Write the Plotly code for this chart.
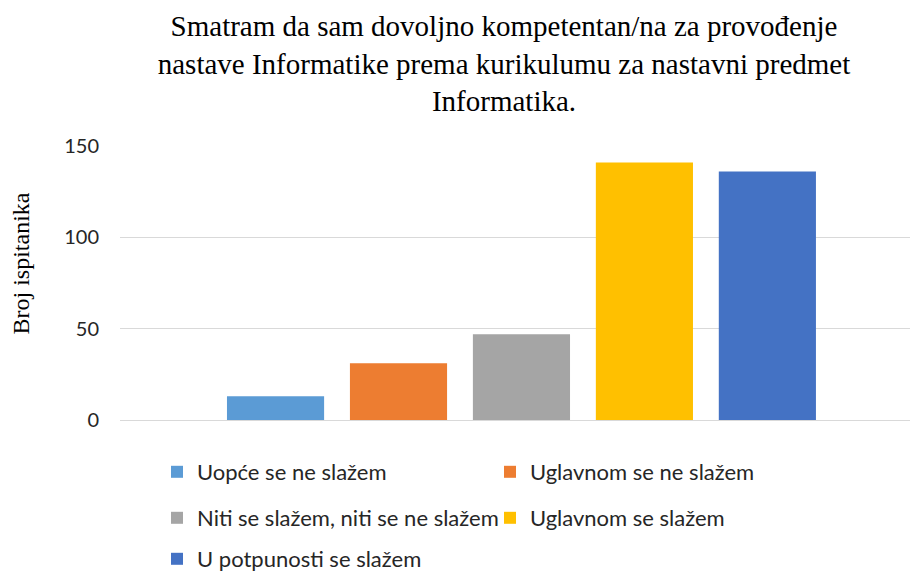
import plotly.graph_objects as go

title_text = "Smatram da sam dovoljno kompetentan/na za provođenje<br>nastave Informatike prema kurikulumu za nastavni predmet<br>Informatika."
y_title = "Broj ispitanika"
category = ["Odgovor"]
series_names = [
    "Uopće se ne slažem",
    "Uglavnom se ne slažem",
    "Niti se slažem, niti se ne slažem",
    "Uglavnom se slažem",
    "U potpunosti se slažem",
]
series_values = [13, 31, 47, 141, 136]
series_colors = ["#5B9BD5", "#ED7D31", "#A5A5A5", "#FFC000", "#4472C4"]
y_ticks = [0, 50, 100, 150]

W, H = 910, 572
L, R, T, B = 120, 0, 146, 152

legend_rows = ["legend", "legend", "legend2", "legend2", "legend3"]

fig = go.Figure()
for name, val, col, lg in zip(series_names, series_values, series_colors, legend_rows):
    fig.add_trace(go.Bar(x=category, y=[val], name=name, marker_color=col,
                         marker_line_width=0, legend=lg))

leg_font = dict(family="Lato", size=22, color="#262626")
row_y = [472, 518, 559]
leg_common = dict(orientation="h", xref="container", yref="container",
                  xanchor="left", yanchor="middle", x=157 / W,
                  entrywidth=288, entrywidthmode="pixels",
                  font=leg_font, bgcolor="rgba(0,0,0,0)", traceorder="normal")

fig.update_layout(
    width=W, height=H,
    margin=dict(l=L, r=R, t=T, b=B, pad=0),
    paper_bgcolor="white", plot_bgcolor="white",
    barmode="group", bargap=0, bargroupgap=0.21,
    title=dict(text=title_text, xref="container", yref="container",
               x=504 / W, xanchor="center", y=1 - 36 / H, yanchor="top",
               font=dict(family="Liberation Serif", size=29, color="#000000")),
    xaxis=dict(type="category", range=[-0.653, 0.632], showticklabels=False,
               showgrid=False, zeroline=False, showline=False, ticks=""),
    yaxis=dict(range=[0, 150], tickvals=y_ticks, showgrid=True,
               gridcolor="#D9D9D9", gridwidth=1.3, zeroline=True,
               zerolinecolor="#D9D9D9", zerolinewidth=1.3, showline=False,
               ticks="", ticklabelstandoff=20,
               tickfont=dict(family="Lato", size=20, color="#262626")),
    legend=dict(**leg_common, y=1 - row_y[0] / H),
    legend2=dict(**leg_common, y=1 - row_y[1] / H),
    legend3=dict(**leg_common, y=1 - row_y[2] / H),
    showlegend=True,
    annotations=[dict(text=y_title, xref="paper", yref="paper",
                      x=(20 - L) / (W - L - R), y=(H - B - 263.5) / (H - T - B),
                      xanchor="center", yanchor="middle", textangle=-90,
                      showarrow=False,
                      font=dict(family="Liberation Serif", size=24, color="#000000"))],
)

fig.write_html("out.html", config={"displayModeBar": False},
               post_script="document.body.style.margin='0';")
